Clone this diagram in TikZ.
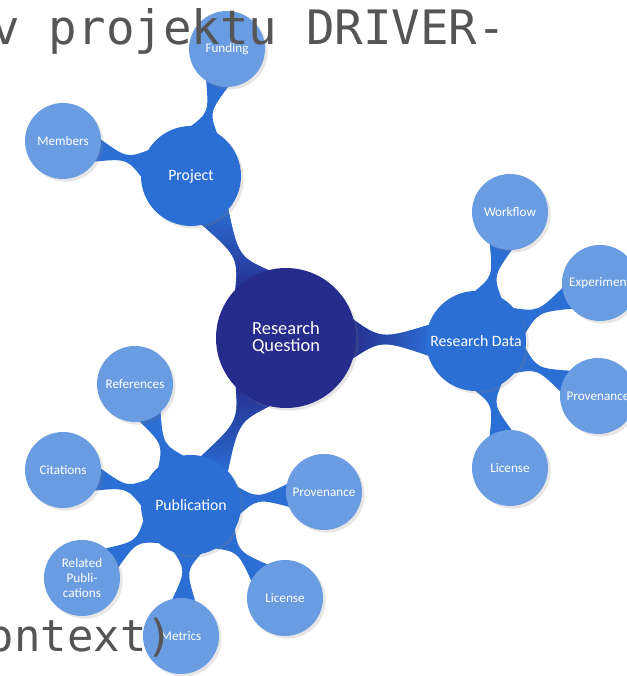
\documentclass[tikz,border=0pt]{standalone}
\usepackage{fontspec}
\setmainfont{Carlito}
\newfontfamily\slidefont{DejaVu Sans Mono}
\usetikzlibrary{calc,shadows,backgrounds}

\definecolor{navy}{RGB}{38,44,140}
\definecolor{midblue}{RGB}{43,110,212}
\definecolor{leafblue}{RGB}{106,156,226}
\definecolor{slidegray}{RGB}{85,85,85}

% tapered link between two bubbles: [opts]{from}{to}{r from}{r to}
\newcommand{\stemlink}[5][]{%
	\fill[stem, #1] ($(#2)!#4!20:(#3)$) .. controls ($(#2)!0.5!(#3)$) .. ($(#3)!#5!-20:(#2)$)
		-- ($(#3)!#5!20:(#2)$) .. controls ($(#2)!0.5!(#3)$) .. ($(#2)!#4!-20:(#3)$) -- cycle;}

\begin{document}
\begin{tikzpicture}

	\tikzstyle{bubble}=[circle, inner sep=0pt, align=center, text=white, drop shadow={shadow xshift=1.5pt, shadow yshift=-1.5pt, opacity=0.2}]
	\tikzstyle{core}=[bubble, fill=navy, minimum size=2.8cm, font=\fontsize{10.5}{9.5}\selectfont]
	\tikzstyle{branch}=[bubble, fill=midblue, minimum size=2.0cm, font=\fontsize{9}{10}\selectfont]
	\tikzstyle{leaf}=[bubble, fill=leafblue, minimum size=1.52cm, font=\fontsize{7.5}{8.5}\selectfont]
	\tikzstyle{stem}=[fill=midblue]
	\tikzstyle{slide}=[anchor=base west, inner sep=0pt, text=slidegray]

	\useasboundingbox (0, 0) rectangle (12.54, 13.52);

	\coordinate (q) at (5.72, 6.76); % CENTRO

	\coordinate (b_1) at (3.82, 10.00); % PROJECT
	\coordinate (b_2) at (9.52, 6.70); % RESEARCH DATA
	\coordinate (b_3) at (3.82, 3.42); % PUBLICATION

	\coordinate (h_1_1) at (1.26, 10.70); % PROJECT
	\coordinate (h_1_2) at (4.54, 12.54); % PROJECT
	\coordinate (h_2_1) at (10.20, 9.28); % RESEARCH DATA
	\coordinate (h_2_2) at (12.00, 7.86); % RESEARCH DATA
	\coordinate (h_2_3) at (11.96, 5.60); % RESEARCH DATA
	\coordinate (h_2_4) at (10.20, 4.16); % RESEARCH DATA
	\coordinate (h_3_1) at (2.70, 5.84); % PUBLICATION
	\coordinate (h_3_2) at (1.26, 4.12); % PUBLICATION
	\coordinate (h_3_3) at (1.64, 1.96); % PUBLICATION
	\coordinate (h_3_4) at (3.62, 0.80); % PUBLICATION
	\coordinate (h_3_5) at (5.70, 1.56); % PUBLICATION
	\coordinate (h_3_6) at (6.48, 3.68); % PUBLICATION

	\node[core] (q) at (q) {Research\\Question};

	\node[branch] (b_1) at (b_1) {Project};
	\node[branch] (b_2) at (b_2) {Research Data};
	\node[branch] (b_3) at (b_3) {Publication};

	\node[leaf] (h_1_1) at (h_1_1) {Members};
	\node[leaf] (h_1_2) at (h_1_2) {Funding};
	\node[leaf] (h_2_1) at (h_2_1) {Workflow};
	\node[leaf] (h_2_2) at (h_2_2) {Experiment};
	\node[leaf] (h_2_3) at (h_2_3) {Provenance};
	\node[leaf] (h_2_4) at (h_2_4) {License};
	\node[leaf] (h_3_1) at (h_3_1) {References};
	\node[leaf] (h_3_2) at (h_3_2) {Citations};
	\node[leaf] (h_3_3) at (h_3_3) {Related\\Publi-\\cations};
	\node[leaf] (h_3_4) at (h_3_4) {Metrics};
	\node[leaf] (h_3_5) at (h_3_5) {License};
	\node[leaf] (h_3_6) at (h_3_6) {Provenance};

	\begin{scope}[on background layer]
		\stemlink[bottom color=navy, top color=midblue]{q}{b_1}{1.33cm}{0.95cm}
		\stemlink[left color=navy, right color=midblue]{q}{b_2}{1.33cm}{0.95cm}
		\stemlink[top color=navy, bottom color=midblue]{q}{b_3}{1.33cm}{0.95cm}

		\stemlink{b_1}{h_1_1}{0.95cm}{0.72cm}
		\stemlink{b_1}{h_1_2}{0.95cm}{0.72cm}
		\stemlink{b_2}{h_2_1}{0.95cm}{0.72cm}
		\stemlink{b_2}{h_2_2}{0.95cm}{0.72cm}
		\stemlink{b_2}{h_2_3}{0.95cm}{0.72cm}
		\stemlink{b_2}{h_2_4}{0.95cm}{0.72cm}
		\stemlink{b_3}{h_3_1}{0.95cm}{0.72cm}
		\stemlink{b_3}{h_3_2}{0.95cm}{0.72cm}
		\stemlink{b_3}{h_3_3}{0.95cm}{0.72cm}
		\stemlink{b_3}{h_3_4}{0.95cm}{0.72cm}
		\stemlink{b_3}{h_3_5}{0.95cm}{0.72cm}
		\stemlink{b_3}{h_3_6}{0.95cm}{0.72cm}
	\end{scope}

	\node[slide, font=\slidefont\fontsize{27}{30}\selectfont] (t_1) at (-0.17, 12.62) {v projektu DRIVER-};
	\node[slide, font=\slidefont\fontsize{25}{30}\selectfont] (t_2) at (-0.25, 0.50) {ontext)};

\end{tikzpicture}
\end{document}
